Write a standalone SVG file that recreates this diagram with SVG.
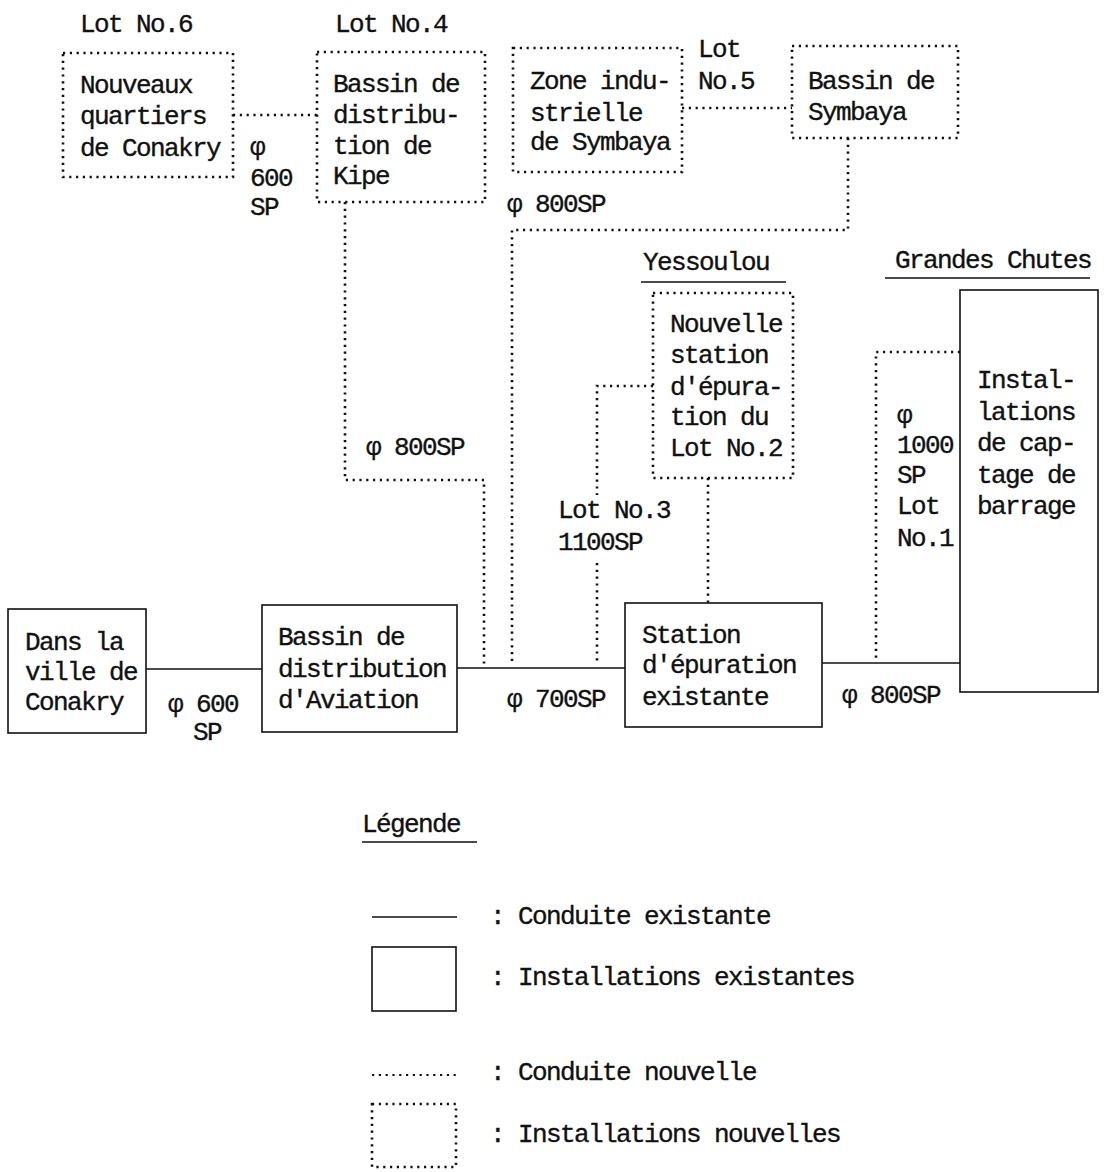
<svg xmlns="http://www.w3.org/2000/svg" width="1104" height="1172" viewBox="0 0 1104 1172">
<style>
text{font-family:"Liberation Mono","DejaVu Sans Mono",monospace;font-size:26px;letter-spacing:-1.6px;fill:#111;stroke:#111;stroke-width:0.35}
.ex{fill:none;stroke:#111;stroke-width:1.6}
.nw{fill:none;stroke:#111;stroke-width:2.6;stroke-dasharray:2.2 4.6}
.ul{stroke:#111;stroke-width:1.6}
</style>
<rect width="1104" height="1172" fill="#fff"/>
<g id="connectors">
<line class="nw" x1="233" y1="115" x2="317" y2="115"/>
<line class="nw" x1="682" y1="108" x2="792" y2="108"/>
<polyline class="nw" points="345,202 345,480 484,480 484,665"/>
<polyline class="nw" points="848,138 848,230 512,230 512,665"/>
<polyline class="nw" points="653,386 597,386 597,495"/>
<line class="nw" x1="597" y1="563" x2="597" y2="665"/>
<line class="nw" x1="708" y1="478" x2="708" y2="603"/>
<polyline class="nw" points="960,352 876,352 876,660"/>
<line class="ex" x1="146" y1="669" x2="262" y2="669"/>
<line class="ex" x1="457" y1="668" x2="625" y2="668"/>
<line class="ex" x1="822" y1="663" x2="960" y2="663"/>
</g>
<g id="lot6">
<text x="80" y="32">Lot No.6</text>
</g>
<g id="nouveaux">
<rect class="nw" x="63" y="53" width="170" height="124"/>
<text x="80" y="93">Nouveaux</text>
<text x="80" y="124">quartiers</text>
<text x="80" y="156">de Conakry</text>
</g>
<g id="label-600-top">
<text x="250" y="155">φ</text>
<text x="250" y="186">600</text>
<text x="250" y="215">SP</text>
</g>
<g id="lot4">
<text x="335" y="32">Lot No.4</text>
</g>
<g id="kipe">
<rect class="nw" x="317" y="52" width="168" height="150"/>
<text x="333" y="92">Bassin de</text>
<text x="333" y="123">distribu-</text>
<text x="333" y="154">tion de</text>
<text x="333" y="184">Kipe</text>
</g>
<g id="zone">
<rect class="nw" x="513" y="48" width="169" height="124"/>
<text x="530" y="89">Zone indu-</text>
<text x="530" y="121">strielle</text>
<text x="530" y="150">de Symbaya</text>
</g>
<g id="lot5">
<text x="698" y="57">Lot</text>
<text x="698" y="89">No.5</text>
</g>
<g id="symbaya">
<rect class="nw" x="792" y="46" width="166" height="92"/>
<text x="808" y="89">Bassin de</text>
<text x="808" y="120">Symbaya</text>
</g>
<g id="label-800-top"><text x="507" y="212">φ 800SP</text></g>
<g id="label-800-kipe"><text x="366" y="455">φ 800SP</text></g>
<g id="yessoulou">
<text x="643" y="270">Yessoulou</text>
<line class="ul" x1="641" y1="282" x2="786" y2="282"/>
<rect class="nw" x="653" y="293" width="140" height="185"/>
<text x="670" y="332">Nouvelle</text>
<text x="670" y="363">station</text>
<text x="670" y="395">d'épura-</text>
<text x="670" y="425">tion du</text>
<text x="670" y="456">Lot No.2</text>
</g>
<g id="lot3"><text x="558" y="518">Lot No.3</text><text x="558" y="550">1100SP</text></g>
<g id="grandes-chutes">
<text x="895" y="268">Grandes Chutes</text>
<line class="ul" x1="885" y1="278" x2="1090" y2="278"/>
<rect class="ex" x="960" y="290" width="138" height="402"/>
<text x="977" y="388">Instal-</text>
<text x="977" y="420">lations</text>
<text x="977" y="451">de cap-</text>
<text x="977" y="483">tage de</text>
<text x="977" y="514">barrage</text>
</g>
<g id="label-1000">
<text x="897" y="423">φ</text>
<text x="897" y="453">1000</text>
<text x="897" y="483">SP</text>
<text x="897" y="514">Lot</text>
<text x="897" y="546">No.1</text>
</g>
<g id="conakry">
<rect class="ex" x="8" y="609" width="138" height="124"/>
<text x="25" y="650">Dans la</text>
<text x="25" y="680">ville de</text>
<text x="25" y="710">Conakry</text>
</g>
<g id="label-600"><text x="168" y="712">φ 600</text><text x="193" y="740">SP</text></g>
<g id="aviation">
<rect class="ex" x="262" y="605" width="195" height="127"/>
<text x="278" y="645">Bassin de</text>
<text x="278" y="677">distribution</text>
<text x="278" y="708">d'Aviation</text>
</g>
<g id="label-700"><text x="507" y="707">φ 700SP</text></g>
<g id="station">
<rect class="ex" x="625" y="603" width="197" height="124"/>
<text x="642" y="643">Station</text>
<text x="642" y="673">d'épuration</text>
<text x="642" y="705">existante</text>
</g>
<g id="label-800-right"><text x="842" y="703">φ 800SP</text></g>
<g id="legend">
<text x="362" y="832">Légende</text>
<line class="ul" x1="362" y1="842" x2="477" y2="842"/>
<line class="ex" x1="372" y1="917" x2="457" y2="917"/>
<text x="490" y="924">: Conduite existante</text>
<rect class="ex" x="372" y="947" width="84" height="64"/>
<text x="490" y="985">: Installations existantes</text>
<line class="nw" x1="372" y1="1075" x2="457" y2="1075" style="stroke-width:1.8"/>
<text x="490" y="1080">: Conduite nouvelle</text>
<rect class="nw" x="372" y="1104" width="84" height="63"/>
<text x="490" y="1142">: Installations nouvelles</text>
</g>
</svg>
